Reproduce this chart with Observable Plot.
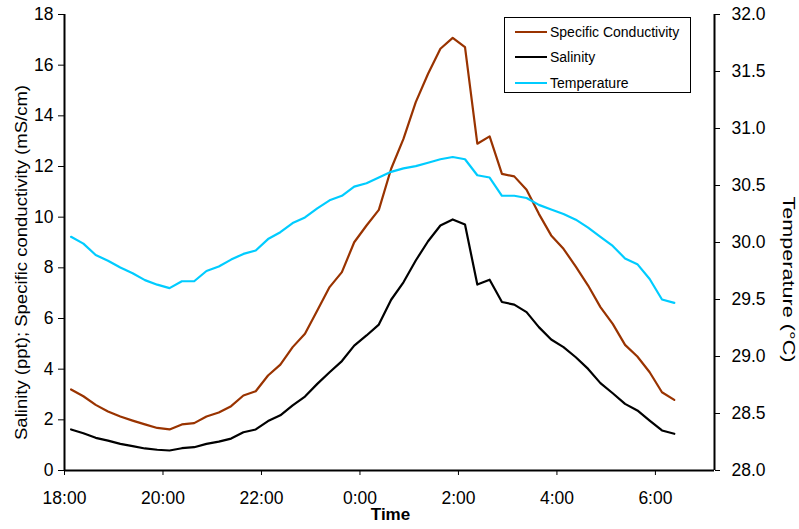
<!DOCTYPE html>
<html><head><meta charset="utf-8">
<script src="https://cdn.jsdelivr.net/npm/d3@7"></script>
<script src="https://cdn.jsdelivr.net/npm/@observablehq/plot@0.6"></script>
<style>
body{margin:0;background:#fff;font-family:"Liberation Sans",Arial,sans-serif;}
#wrap{position:relative;width:799px;height:529px;overflow:hidden;}
#legend{position:absolute;left:504px;top:17px;width:187px;height:76px;border:1px solid #000;background:#fff;box-sizing:border-box;font-size:14px;color:#000;}
#legend .row{position:absolute;left:10px;height:20px;display:flex;align-items:center;}
#legend .sw{width:32px;height:0;border-top:2.2px solid;margin-right:3px;}
</style></head><body><div id="wrap"><div id="chart"></div><div id="legend"></div></div>
<script>
// ---- data (readings every 15 minutes starting at 18:08) ----
const startHour = 18, startMinute = 8, stepMinutes = 15;
const specificConductivity = [3.20,2.93,2.59,2.33,2.13,1.97,1.82,1.68,1.62,1.82,1.87,2.13,2.29,2.54,2.96,3.13,3.75,4.18,4.87,5.40,6.32,7.24,7.83,9.01,9.67,10.29,11.91,13.09,14.54,15.66,16.65,17.08,16.71,12.90,13.19,11.71,11.61,11.08,10.13,9.28,8.75,8.05,7.30,6.45,5.79,4.96,4.50,3.88,3.09,2.79];
const salinity = [1.62,1.47,1.29,1.18,1.05,0.96,0.87,0.82,0.79,0.88,0.92,1.05,1.14,1.26,1.51,1.62,1.95,2.18,2.57,2.92,3.42,3.88,4.32,4.93,5.33,5.76,6.74,7.43,8.29,9.05,9.67,9.91,9.71,7.34,7.53,6.65,6.55,6.25,5.66,5.17,4.87,4.47,4.01,3.45,3.05,2.63,2.37,1.97,1.58,1.45];
const temperature = [30.05,29.99,29.89,29.84,29.78,29.73,29.67,29.63,29.60,29.66,29.66,29.75,29.79,29.85,29.90,29.93,30.03,30.09,30.17,30.22,30.30,30.37,30.41,30.49,30.52,30.57,30.62,30.65,30.67,30.70,30.73,30.75,30.73,30.59,30.57,30.41,30.41,30.39,30.33,30.29,30.25,30.20,30.13,30.05,29.97,29.86,29.81,29.68,29.50,29.47];
const seriesNames = ["Specific Conductivity","Salinity","Temperature"];
const seriesColors = ["#993300","#000000","#00CCFF"];
const leftTicks = [0,2,4,6,8,10,12,14,16,18];
const rightTicks = [28.0,28.5,29.0,29.5,30.0,30.5,31.0,31.5,32.0];
const timeTickLabels = ["18:00","20:00","22:00","0:00","2:00","4:00","6:00"];
const xDomainLabels = ["18:00","7:12"];
const leftTitle = "Salinity (ppt); Specific conductivity (mS/cm)";
const rightTitle = "Temperature (°C)";
const xTitle = "Time";
const leftDomain = [0,18], rightDomain = [28,32];

// ---- helpers ----
const toDate = (s) => { const [h,m] = s.split(":").map(Number); return new Date(Date.UTC(2000,0,h >= 12 ? 1 : 2,h,m)); };
const t0 = Date.UTC(2000,0,1,startHour,startMinute);
const times = specificConductivity.map((_,i) => new Date(t0 + i*stepMinutes*60000));
const tempToLeft = t => (t - rightDomain[0])/(rightDomain[1]-rightDomain[0])*(leftDomain[1]-leftDomain[0]) + leftDomain[0];
const leftToTemp = v => rightDomain[0] + (v - leftDomain[0])/(leftDomain[1]-leftDomain[0])*(rightDomain[1]-rightDomain[0]);
const rows = (vals, f=(v)=>v) => vals.map((v,i) => ({t: times[i], v: f(v)}));
const xDomain = xDomainLabels.map(toDate);

const chart = Plot.plot({
  width: 799, height: 529,
  marginLeft: 64, marginRight: 85, marginTop: 14, marginBottom: 59,
  style: {fontFamily: '"Liberation Sans", Arial, sans-serif', fontSize: "17px", color: "#000", background: "#fff"},
  x: {type: "utc", domain: xDomain},
  y: {domain: leftDomain},
  marks: [
    Plot.axisY(leftTicks, {anchor: "left", tickSize: 6, tickPadding: 5, label: null, fontSize: 17.5}),
    Plot.axisY(rightTicks.map(tempToLeft), {anchor: "right", tickSize: 5, tickPadding: 12, label: null, fontSize: 17.5, textAnchor: "start", tickFormat: v => leftToTemp(v).toFixed(1)}),
    Plot.axisX(timeTickLabels.map(toDate), {anchor: "bottom", tickSize: 5, tickPadding: 16, label: null, fontSize: 17.5, tickFormat: d3.utcFormat("%-H:%M")}),
    Plot.ruleY([leftDomain[0]], {stroke: "#000", strokeWidth: 2}),
    Plot.ruleX([xDomain[0]], {stroke: "#000", strokeWidth: 2}),
    Plot.ruleX([xDomain[1]], {stroke: "#000", strokeWidth: 2}),
    Plot.line(rows(specificConductivity), {x: "t", y: "v", stroke: seriesColors[0], strokeWidth: 2.2}),
    Plot.line(rows(salinity), {x: "t", y: "v", stroke: seriesColors[1], strokeWidth: 2.2}),
    Plot.line(rows(temperature, tempToLeft), {x: "t", y: "v", stroke: seriesColors[2], strokeWidth: 2.2}),
    Plot.text([leftTitle], {frameAnchor: "left", textAnchor: "middle", dx: -43, dy: 20, rotate: -90, fontSize: 17}),
    Plot.text([rightTitle], {frameAnchor: "right", textAnchor: "middle", dx: 74, dy: 37, rotate: 90, fontSize: 17}),
    Plot.text([xTitle], {frameAnchor: "bottom", dx: 1, dy: 49, fontSize: 17, fontWeight: "bold"})
  ]
});
document.getElementById("chart").appendChild(chart);

// stretch the rotated axis titles to the reference lengths
const titleLengths = {[leftTitle]: 355, [rightTitle]: 166};
chart.querySelectorAll("text").forEach(el => {
  const len = titleLengths[el.textContent];
  if (len) { el.setAttribute("textLength", len); el.setAttribute("lengthAdjust", "spacingAndGlyphs"); }
});

const legend = document.getElementById("legend");
seriesNames.forEach((name,i) => {
  const row = document.createElement("div");
  row.className = "row";
  row.style.top = (4 + i*25.3) + "px";
  row.innerHTML = `<span class="sw" style="border-color:${seriesColors[i]}"></span><span>${name}</span>`;
  legend.appendChild(row);
});
</script>
</body></html>
